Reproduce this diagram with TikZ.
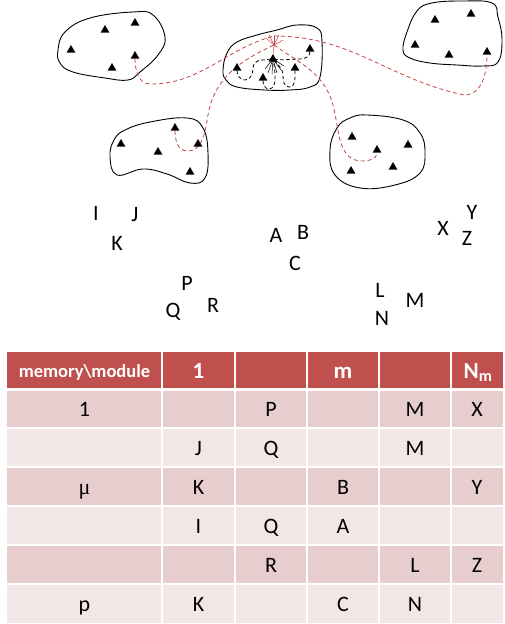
\documentclass[tikz,border=0pt]{standalone}
\usepackage{fontspec}
\setmainfont{Carlito}
\newfontfamily\greekfont{Liberation Serif}
\usepackage{tikz}
\usetikzlibrary{shapes.geometric}
\pgfdeclarelayer{edgelayer}
\pgfdeclarelayer{nodelayer}
\pgfsetlayers{edgelayer,nodelayer,main}
\definecolor{linkred}{RGB}{196,66,66}
\definecolor{head}{RGB}{192,80,77}
\definecolor{band}{RGB}{231,205,205}
\definecolor{pale}{RGB}{243,230,230}
\tikzstyle{none}=[inner sep=0pt]
\tikzstyle{tri}=[regular polygon, regular polygon sides=3, fill=black, minimum size=10pt, inner sep=0pt]
\tikzstyle{blob}=[black, line width=0.9pt]
\tikzstyle{link}=[linkred, dash pattern=on 4pt off 3pt, line width=0.8pt]
\tikzstyle{fold}=[black, dash pattern=on 3.5pt off 2.5pt, line width=0.8pt]
\tikzstyle{twig}=[linkred, line width=0.5pt]
\tikzstyle{rootlet}=[black, line width=0.5pt]
\tikzstyle{letter}=[inner sep=0pt, font=\fontsize{22}{26}\selectfont]
\tikzstyle{cell}=[inner sep=0pt, anchor=base, font=\fontsize{22}{26}\selectfont]
\tikzstyle{headcell}=[inner sep=0pt, anchor=base, text=white, font=\fontsize{23}{27}\selectfont\bfseries]

\begin{document}
\begin{tikzpicture}[x=1pt, y=1pt]
	\useasboundingbox (0,0) rectangle (504,-624);
	\begin{pgfonlayer}{nodelayer}
		% triangles, upper left region
		\node [style=tri] (0) at (105,-30) {};
		\node [style=tri] (1) at (135,-23) {};
		\node [style=tri] (2) at (71,-50) {};
		\node [style=tri] (3) at (112,-68) {};
		\node [style=tri] (4) at (135,-56) {};
		% triangles, centre region
		\node [style=tri] (5) at (273,-59) {};
		\node [style=tri] (6) at (237,-68) {};
		\node [style=tri] (7) at (263,-78) {};
		\node [style=tri] (8) at (295,-68) {};
		\node [style=tri] (9) at (310,-49) {};
		% triangles, upper right region
		\node [style=tri] (10) at (435,-20) {};
		\node [style=tri] (11) at (471,-14) {};
		\node [style=tri] (12) at (415,-45) {};
		\node [style=tri] (13) at (449,-55) {};
		\node [style=tri] (14) at (487,-52) {};
		% triangles, lower left region
		\node [style=tri] (15) at (175,-128) {};
		\node [style=tri] (16) at (121,-144) {};
		\node [style=tri] (17) at (158,-152) {};
		\node [style=tri] (18) at (198,-144) {};
		\node [style=tri] (19) at (190,-172) {};
		% triangles, lower right region
		\node [style=tri] (20) at (352,-137) {};
		\node [style=tri] (21) at (377,-150) {};
		\node [style=tri] (22) at (408,-145) {};
		\node [style=tri] (23) at (351,-171) {};
		\node [style=tri] (24) at (393,-167) {};
		% bends of the links
		\node [style=none] (25) at (274,-36) {};
		\node [style=none] (26) at (274,-45) {};
		\node [style=none] (27) at (150,-84) {};
		\node [style=none] (28) at (464,-95) {};
		\node [style=none] (29) at (187,-151) {};
		\node [style=none] (30) at (208,-115) {};
		\node [style=none] (31) at (333,-105) {};
		\node [style=none] (32) at (362,-161) {};
		\node [style=none] (33) at (245,-80) {};
		\node [style=none] (34) at (253,-68) {};
		\node [style=none] (35) at (262,-60) {};
		\node [style=none] (36) at (269,-89) {};
		\node [style=none] (37) at (275,-78) {};
		\node [style=none] (38) at (289,-87) {};
		\node [style=none] (39) at (283,-76) {};
		\node [style=none] (40) at (300,-59) {};
		% tree ends
		\node [style=none] (41) at (266,-38) {};
		\node [style=none] (42) at (269,-35) {};
		\node [style=none] (43) at (279,-35) {};
		\node [style=none] (44) at (283,-40) {};
		\node [style=none] (45) at (265,-69) {};
		\node [style=none] (46) at (268,-73) {};
		\node [style=none] (47) at (272,-74) {};
		\node [style=none] (48) at (277,-73) {};
		\node [style=none] (49) at (281,-70) {};
		\node [style=none] (50) at (284,-66) {};
		% letters
		\node [style=letter] (51) at (96,-213) {I};
		\node [style=letter] (52) at (135,-215) {J};
		\node [style=letter] (53) at (117,-243) {K};
		\node [style=letter] (54) at (276,-235) {A};
		\node [style=letter] (55) at (303,-232) {B};
		\node [style=letter] (56) at (295,-263) {C};
		\node [style=letter] (57) at (187,-283) {P};
		\node [style=letter] (58) at (173,-312) {Q};
		\node [style=letter] (59) at (213,-305) {R};
		\node [style=letter] (60) at (380,-290) {L};
		\node [style=letter] (61) at (382,-318) {N};
		\node [style=letter] (62) at (415,-300) {M};
		\node [style=letter] (63) at (443,-228) {X};
		\node [style=letter] (64) at (472,-212) {Y};
		\node [style=letter] (65) at (467,-238) {Z};
	\end{pgfonlayer}
	\begin{pgfonlayer}{edgelayer}
		% outlines
		\draw [style=blob] plot [smooth cycle, tension=0.7] coordinates {(58,-50) (65,-32) (90,-18) (133,-12) (153,-15) (165,-37) (158,-55) (140,-72) (128,-80) (105,-78) (73,-72) (60,-63)};
		\draw [style=blob] plot [smooth cycle, tension=0.7] coordinates {(223,-70) (227,-53) (237,-42) (257,-35) (277,-30) (297,-25) (317,-28) (322,-42) (320,-77) (310,-87) (290,-90) (265,-90) (237,-87) (226,-80)};
		\draw [style=blob] plot [smooth cycle, tension=0.7] coordinates {(403,-50) (407,-32) (417,-11) (432,-3) (463,-1) (492,-3) (498,-17) (502,-40) (498,-62) (483,-66) (457,-65) (430,-63) (410,-58)};
		\draw [style=blob] plot [smooth cycle, tension=0.7] coordinates {(110,-157) (114,-140) (125,-130) (150,-122) (187,-118) (203,-128) (208,-153) (205,-178) (190,-183) (167,-174) (143,-169) (117,-175)};
		\draw [style=blob] plot [smooth cycle, tension=0.7] coordinates {(330,-150) (337,-128) (350,-118) (367,-115) (403,-120) (420,-133) (425,-152) (420,-173) (395,-185) (360,-188) (335,-175)};
		% links to the centre
		\draw [style=link] (4.south) to [out=-90, in=180] (27.center) to [out=0, in=195] (25.center);
		\draw [style=link] (25.center) to [out=0, in=168] (28.center) to [out=0, in=-90] (14.south);
		\draw [style=link] (15.south) to [out=-90, in=180] (29.center) to [out=0, in=-100] (30.center) to [out=80, in=205] (26.center);
		\draw [style=link] (26.center) to [out=-35, in=105] (31.center) to [out=-75, in=180] (32.center) to [out=0, in=-90] (21.south);
		% folds inside the centre
		\draw [style=fold] (6.south) to [out=-90, in=180] (33.center) to [out=0, in=-90] (34.center) to [out=90, in=180] (35.center) to [out=0, in=180] (5.center);
		\draw [style=fold] (7.south) to [out=-90, in=180] (36.center) to [out=0, in=-90] (37.center) to [out=90, in=-80] (5.center);
		\draw [style=fold] (8.south) to [out=-90, in=0] (38.center) to [out=180, in=-90] (39.center) to [out=90, in=-50] (5.center);
		\draw [style=fold] (9.south) to [out=-90, in=0] (40.center) to [out=180, in=-10] (5.center);
		% tree
		\draw [style=twig] (5.north) to (26.center);
		\draw [style=twig] (26.center) to (41.center);
		\draw [style=twig] (26.center) to (42.center);
		\draw [style=twig] (26.center) to (25.center);
		\draw [style=twig] (26.center) to (43.center);
		\draw [style=twig] (26.center) to (44.center);
		\draw [style=rootlet] (5.center) to (45.center);
		\draw [style=rootlet] (5.center) to (46.center);
		\draw [style=rootlet] (5.center) to (47.center);
		\draw [style=rootlet] (5.center) to (48.center);
		\draw [style=rootlet] (5.center) to (49.center);
		\draw [style=rootlet] (5.center) to (50.center);
	\end{pgfonlayer}
	% table
	\fill [head] (7,-352) rectangle (503,-389);
	\fill [band] (7,-389) rectangle (503,-428);
	\fill [pale] (7,-428) rectangle (503,-467);
	\fill [band] (7,-467) rectangle (503,-506);
	\fill [pale] (7,-506) rectangle (503,-545);
	\fill [band] (7,-545) rectangle (503,-584);
	\fill [pale] (7,-584) rectangle (503,-623);
	\draw [white, line width=3pt] (7,-389) -- (503,-389);
	\draw [white, line width=2pt] (7,-428) -- (503,-428);
	\draw [white, line width=2pt] (7,-467) -- (503,-467);
	\draw [white, line width=2pt] (7,-506) -- (503,-506);
	\draw [white, line width=2pt] (7,-545) -- (503,-545);
	\draw [white, line width=2pt] (7,-584) -- (503,-584);
	\draw [white, line width=2pt] (162,-352) -- (162,-623);
	\draw [white, line width=2pt] (235,-352) -- (235,-623);
	\draw [white, line width=2pt] (307,-352) -- (307,-623);
	\draw [white, line width=2pt] (379,-352) -- (379,-623);
	\draw [white, line width=2pt] (451,-352) -- (451,-623);
	\node [style=headcell, font=\fontsize{18.5}{22}\selectfont\bfseries] (70) at (84.5,-377) {memory\textbackslash module};
	\node [style=headcell] (71) at (198.5,-378) {1};
	\node [style=headcell] (72) at (343,-378) {m};
	\node [style=headcell] (73) at (478,-378) {N\textsubscript{m}};
	\node [style=cell] (74) at (84.5,-416) {1};
	\node [style=cell] (75) at (271,-416) {P};
	\node [style=cell] (76) at (415,-416) {M};
	\node [style=cell] (77) at (477,-416) {X};
	\node [style=cell] (78) at (198.5,-455) {J};
	\node [style=cell] (79) at (271,-455) {Q};
	\node [style=cell] (80) at (415,-455) {M};
	\node [style=cell] (81) at (84.5,-494) {\greekfont μ};
	\node [style=cell] (82) at (198.5,-494) {K};
	\node [style=cell] (83) at (343,-494) {B};
	\node [style=cell] (84) at (477,-494) {Y};
	\node [style=cell] (85) at (198.5,-533) {I};
	\node [style=cell] (86) at (271,-533) {Q};
	\node [style=cell] (87) at (343,-533) {A};
	\node [style=cell] (88) at (271,-572) {R};
	\node [style=cell] (89) at (415,-572) {L};
	\node [style=cell] (90) at (477,-572) {Z};
	\node [style=cell] (91) at (84.5,-611) {p};
	\node [style=cell] (92) at (198.5,-611) {K};
	\node [style=cell] (93) at (343,-611) {C};
	\node [style=cell] (94) at (415,-611) {N};
\end{tikzpicture}
\end{document}
